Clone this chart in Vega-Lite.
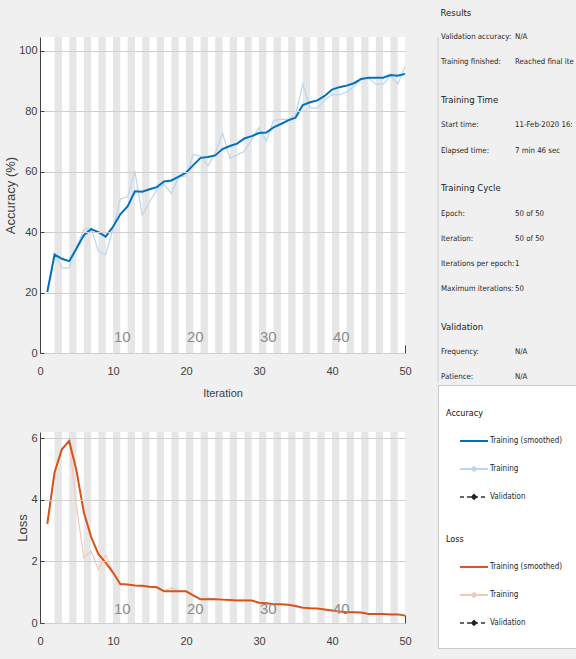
{
  "$schema": "https://vega.github.io/schema/vega-lite/v6.json",
  "background": "#f0f0f0",
  "padding": {"left": 4, "top": 0, "right": 0, "bottom": 0},
  "config": {
    "view": {"stroke": null},
    "font": "DejaVu Sans Condensed, Liberation Sans, sans-serif",
    "axis": {
      "labelFont": "Liberation Sans, Arial, sans-serif",
      "labelFontSize": 11,
      "labelColor": "#404040",
      "domainColor": "#404040",
      "tickColor": "#404040",
      "titleColor": "#404040",
      "titleFontWeight": "normal"
    }
  },
  "datasets": {
    "train": [
      {"iteration": 1, "accuracy": 20.2, "accuracySmoothed": 20.2, "loss": 3.22, "lossSmoothed": 3.22},
      {"iteration": 2, "accuracy": 33, "accuracySmoothed": 32.6, "loss": 4.9, "lossSmoothed": 4.9},
      {"iteration": 3, "accuracy": 28.2, "accuracySmoothed": 31.2, "loss": 5.65, "lossSmoothed": 5.65},
      {"iteration": 4, "accuracy": 28.2, "accuracySmoothed": 30.4, "loss": 5.92, "lossSmoothed": 5.92},
      {"iteration": 5, "accuracy": 35, "accuracySmoothed": 34.6, "loss": 3.8, "lossSmoothed": 4.95},
      {"iteration": 6, "accuracy": 40.9, "accuracySmoothed": 39, "loss": 2.12, "lossSmoothed": 3.6},
      {"iteration": 7, "accuracy": 41.4, "accuracySmoothed": 41, "loss": 2.34, "lossSmoothed": 2.8},
      {"iteration": 8, "accuracy": 33.7, "accuracySmoothed": 40, "loss": 1.74, "lossSmoothed": 2.24},
      {"iteration": 9, "accuracy": 32.6, "accuracySmoothed": 38.5, "loss": 2.21, "lossSmoothed": 1.96},
      {"iteration": 10, "accuracy": 41, "accuracySmoothed": 41.8, "loss": 1.66, "lossSmoothed": 1.64},
      {"iteration": 11, "accuracy": 51, "accuracySmoothed": 45.9, "loss": 1.27, "lossSmoothed": 1.27},
      {"iteration": 12, "accuracy": 51.7, "accuracySmoothed": 48.5, "loss": 1.25, "lossSmoothed": 1.25},
      {"iteration": 13, "accuracy": 60.2, "accuracySmoothed": 53.5, "loss": 1.22, "lossSmoothed": 1.22},
      {"iteration": 14, "accuracy": 45.6, "accuracySmoothed": 53.4, "loss": 1.2, "lossSmoothed": 1.21},
      {"iteration": 15, "accuracy": 50, "accuracySmoothed": 54.2, "loss": 1.17, "lossSmoothed": 1.18},
      {"iteration": 16, "accuracy": 54, "accuracySmoothed": 54.9, "loss": 1.16, "lossSmoothed": 1.16},
      {"iteration": 17, "accuracy": 55.8, "accuracySmoothed": 56.8, "loss": 1.05, "lossSmoothed": 1.03},
      {"iteration": 18, "accuracy": 52.8, "accuracySmoothed": 57.1, "loss": 1.15, "lossSmoothed": 1.03},
      {"iteration": 19, "accuracy": 58.3, "accuracySmoothed": 58.4, "loss": 1.04, "lossSmoothed": 1.03},
      {"iteration": 20, "accuracy": 58.6, "accuracySmoothed": 59.7, "loss": 1.03, "lossSmoothed": 1.03},
      {"iteration": 21, "accuracy": 65.7, "accuracySmoothed": 62.2, "loss": 0.88, "lossSmoothed": 0.9},
      {"iteration": 22, "accuracy": 65.2, "accuracySmoothed": 64.6, "loss": 0.77, "lossSmoothed": 0.77},
      {"iteration": 23, "accuracy": 61.9, "accuracySmoothed": 64.9, "loss": 0.82, "lossSmoothed": 0.77},
      {"iteration": 24, "accuracy": 66.3, "accuracySmoothed": 65.4, "loss": 0.78, "lossSmoothed": 0.77},
      {"iteration": 25, "accuracy": 72.8, "accuracySmoothed": 67.5, "loss": 0.76, "lossSmoothed": 0.76},
      {"iteration": 26, "accuracy": 64.6, "accuracySmoothed": 68.5, "loss": 0.75, "lossSmoothed": 0.75},
      {"iteration": 27, "accuracy": 65.5, "accuracySmoothed": 69.3, "loss": 0.74, "lossSmoothed": 0.73},
      {"iteration": 28, "accuracy": 66.8, "accuracySmoothed": 71, "loss": 0.77, "lossSmoothed": 0.73},
      {"iteration": 29, "accuracy": 70.7, "accuracySmoothed": 71.8, "loss": 0.73, "lossSmoothed": 0.73},
      {"iteration": 30, "accuracy": 74.6, "accuracySmoothed": 72.8, "loss": 0.66, "lossSmoothed": 0.66},
      {"iteration": 31, "accuracy": 70.2, "accuracySmoothed": 73, "loss": 0.65, "lossSmoothed": 0.64},
      {"iteration": 32, "accuracy": 77, "accuracySmoothed": 74.7, "loss": 0.61, "lossSmoothed": 0.61},
      {"iteration": 33, "accuracy": 77.3, "accuracySmoothed": 75.8, "loss": 0.61, "lossSmoothed": 0.61},
      {"iteration": 34, "accuracy": 77.3, "accuracySmoothed": 77, "loss": 0.59, "lossSmoothed": 0.59},
      {"iteration": 35, "accuracy": 78.9, "accuracySmoothed": 77.9, "loss": 0.55, "lossSmoothed": 0.55},
      {"iteration": 36, "accuracy": 89, "accuracySmoothed": 82.1, "loss": 0.47, "lossSmoothed": 0.5},
      {"iteration": 37, "accuracy": 81.1, "accuracySmoothed": 83, "loss": 0.49, "lossSmoothed": 0.48},
      {"iteration": 38, "accuracy": 81.1, "accuracySmoothed": 83.6, "loss": 0.47, "lossSmoothed": 0.47},
      {"iteration": 39, "accuracy": 83.8, "accuracySmoothed": 85.1, "loss": 0.44, "lossSmoothed": 0.44},
      {"iteration": 40, "accuracy": 85.5, "accuracySmoothed": 87.2, "loss": 0.41, "lossSmoothed": 0.41},
      {"iteration": 41, "accuracy": 85.5, "accuracySmoothed": 88, "loss": 0.38, "lossSmoothed": 0.37},
      {"iteration": 42, "accuracy": 86.3, "accuracySmoothed": 88.5, "loss": 0.35, "lossSmoothed": 0.35},
      {"iteration": 43, "accuracy": 88.2, "accuracySmoothed": 89.3, "loss": 0.35, "lossSmoothed": 0.35},
      {"iteration": 44, "accuracy": 90.7, "accuracySmoothed": 90.7, "loss": 0.34, "lossSmoothed": 0.34},
      {"iteration": 45, "accuracy": 91, "accuracySmoothed": 91.1, "loss": 0.29, "lossSmoothed": 0.29},
      {"iteration": 46, "accuracy": 89, "accuracySmoothed": 91.1, "loss": 0.29, "lossSmoothed": 0.29},
      {"iteration": 47, "accuracy": 89, "accuracySmoothed": 91.1, "loss": 0.29, "lossSmoothed": 0.29},
      {"iteration": 48, "accuracy": 91.8, "accuracySmoothed": 92, "loss": 0.28, "lossSmoothed": 0.28},
      {"iteration": 49, "accuracy": 89, "accuracySmoothed": 91.8, "loss": 0.28, "lossSmoothed": 0.28},
      {"iteration": 50, "accuracy": 94.8, "accuracySmoothed": 92.4, "loss": 0.28, "lossSmoothed": 0.24}
    ],
    "stripes": [
      {"from": 2, "to": 3}, {"from": 4, "to": 5}, {"from": 6, "to": 7}, {"from": 8, "to": 9},
      {"from": 10, "to": 11}, {"from": 12, "to": 13}, {"from": 14, "to": 15}, {"from": 16, "to": 17},
      {"from": 18, "to": 19}, {"from": 20, "to": 21}, {"from": 22, "to": 23}, {"from": 24, "to": 25},
      {"from": 26, "to": 27}, {"from": 28, "to": 29}, {"from": 30, "to": 31}, {"from": 32, "to": 33},
      {"from": 34, "to": 35}, {"from": 36, "to": 37}, {"from": 38, "to": 39}, {"from": 40, "to": 41},
      {"from": 42, "to": 43}, {"from": 44, "to": 45}, {"from": 46, "to": 47}, {"from": 48, "to": 49}
    ],
    "epochs": [{"epoch": 10}, {"epoch": 20}, {"epoch": 30}, {"epoch": 40}],
    "info": [
      {"line": 2, "kind": "row", "label": "Validation accuracy:", "value": "N/A"},
      {"line": 4, "kind": "row", "label": "Training finished:", "value": "Reached final iteration"},
      {"line": 7, "kind": "heading", "label": "Training Time", "value": ""},
      {"line": 9, "kind": "row", "label": "Start time:", "value": "11-Feb-2020 16:41:4"},
      {"line": 11, "kind": "row", "label": "Elapsed time:", "value": "7 min 46 sec"},
      {"line": 14, "kind": "heading", "label": "Training Cycle", "value": ""},
      {"line": 16, "kind": "row", "label": "Epoch:", "value": "50 of 50"},
      {"line": 18, "kind": "row", "label": "Iteration:", "value": "50 of 50"},
      {"line": 20, "kind": "row", "label": "Iterations per epoch:", "value": "1"},
      {"line": 22, "kind": "row", "label": "Maximum iterations:", "value": "50"},
      {"line": 25, "kind": "heading", "label": "Validation", "value": ""},
      {"line": 27, "kind": "row", "label": "Frequency:", "value": "N/A"},
      {"line": 29, "kind": "row", "label": "Patience:", "value": "N/A"}
    ],
    "legend": [
      {"line": 0, "metric": "Accuracy", "kind": "heading", "label": "Accuracy"},
      {"line": 2, "metric": "Accuracy", "kind": "smoothed", "label": "Training (smoothed)"},
      {"line": 4, "metric": "Accuracy", "kind": "training", "label": "Training"},
      {"line": 6, "metric": "Accuracy", "kind": "validation", "label": "Validation"},
      {"line": 9, "metric": "Loss", "kind": "heading", "label": "Loss"},
      {"line": 11, "metric": "Loss", "kind": "smoothed", "label": "Training (smoothed)"},
      {"line": 13, "metric": "Loss", "kind": "training", "label": "Training"},
      {"line": 15, "metric": "Loss", "kind": "validation", "label": "Validation"}
    ]
  },
  "spacing": 25,
  "hconcat": [
    {
      "spacing": 34,
      "vconcat": [
        {
          "width": 365,
          "height": 316,
          "view": {"fill": "white"},
          "title": {"text": " ", "fontSize": 10, "offset": 27},
          "layer": [
            {
              "data": {"name": "stripes"},
              "mark": {"type": "rect", "color": "#e6e6e6"},
              "encoding": {
                "x": {"field": "from", "type": "quantitative",
                      "scale": {"domain": [0, 50], "nice": false, "zero": false},
                      "axis": {"title": "Iteration", "values": [0, 5, 10, 15, 20, 25, 30, 35, 40, 45, 50],
                               "grid": false, "tickSize": -8, "labelPadding": 20, "titlePadding": 11, "labelFlush": false,
                               "titleFont": "Liberation Sans, Arial, sans-serif", "titleFontSize": 11}},
                "x2": {"field": "to"},
                "y": {"datum": 0, "type": "quantitative",
                      "scale": {"domain": [0, 104.6], "nice": false, "zero": false},
                      "axis": {"title": "Accuracy (%)", "values": [0, 20, 40, 60, 80, 100], "grid": true,
                               "gridColor": "#cfcfcf", "ticks": true, "tickSize": -4, "labelPadding": 7, "titlePadding": 1, "zindex": 1,
                               "titleFont": "Liberation Sans, Arial, sans-serif", "titleFontSize": 13}},
                "y2": {"datum": 104.6}
              }
            },
            {
              "data": {"name": "train"},
              "mark": {"type": "line", "color": "#b9d6ee", "strokeWidth": 1.2},
              "encoding": {
                "x": {"field": "iteration", "type": "quantitative"},
                "y": {"field": "accuracy", "type": "quantitative"}
              }
            },
            {
              "data": {"name": "train"},
              "mark": {"type": "line", "color": "#0072bd", "strokeWidth": 2},
              "encoding": {
                "x": {"field": "iteration", "type": "quantitative"},
                "y": {"field": "accuracySmoothed", "type": "quantitative"}
              }
            },
            {
              "data": {"name": "epochs"},
              "mark": {"type": "text", "align": "left", "dx": 1, "baseline": "middle", "fontSize": 15, "font": "Liberation Sans, Arial, sans-serif", "color": "#8c8c8c"},
              "encoding": {
                "x": {"field": "epoch", "type": "quantitative"},
                "y": {"datum": 5.4, "type": "quantitative"},
                "text": {"field": "epoch", "type": "quantitative"}
              }
            }
          ]
        },
        {
          "width": 365,
          "height": 191,
          "view": {"fill": "white"},
          "layer": [
            {
              "data": {"name": "stripes"},
              "mark": {"type": "rect", "color": "#e6e6e6"},
              "encoding": {
                "x": {"field": "from", "type": "quantitative",
                      "scale": {"domain": [0, 50], "nice": false, "zero": false},
                      "axis": {"title": "Iteration", "values": [0, 5, 10, 15, 20, 25, 30, 35, 40, 45, 50],
                               "grid": false, "tickSize": -8, "labelPadding": 20, "titlePadding": 11, "labelFlush": false,
                               "titleFont": "Liberation Sans, Arial, sans-serif", "titleFontSize": 11}},
                "x2": {"field": "to"},
                "y": {"datum": 0, "type": "quantitative",
                      "scale": {"domain": [0, 6.21], "nice": false, "zero": false},
                      "axis": {"title": "Loss", "values": [0, 2, 4, 6], "grid": true,
                               "gridColor": "#cfcfcf", "ticks": true, "tickSize": -4, "labelPadding": 7, "titlePadding": 1, "zindex": 1,
                               "titleFont": "Liberation Sans, Arial, sans-serif", "titleFontSize": 13}},
                "y2": {"datum": 6.21}
              }
            },
            {
              "data": {"name": "train"},
              "mark": {"type": "line", "color": "#f4c7b3", "strokeWidth": 1.2},
              "encoding": {
                "x": {"field": "iteration", "type": "quantitative"},
                "y": {"field": "loss", "type": "quantitative"}
              }
            },
            {
              "data": {"name": "train"},
              "mark": {"type": "line", "color": "#d95319", "strokeWidth": 2},
              "encoding": {
                "x": {"field": "iteration", "type": "quantitative"},
                "y": {"field": "lossSmoothed", "type": "quantitative"}
              }
            },
            {
              "data": {"name": "epochs"},
              "mark": {"type": "text", "align": "left", "dx": 1, "baseline": "middle", "fontSize": 15, "font": "Liberation Sans, Arial, sans-serif", "color": "#8c8c8c"},
              "encoding": {
                "x": {"field": "epoch", "type": "quantitative"},
                "y": {"datum": 0.44, "type": "quantitative"},
                "text": {"field": "epoch", "type": "quantitative"}
              }
            }
          ]
        }
      ]
    },
    {
      "spacing": 0,
      "vconcat": [
        {
          "width": 140,
          "height": 346,
          "title": {"text": "Results", "anchor": "start", "dx": 3, "baseline": "middle", "offset": 11,
                    "fontSize": 9.5, "fontWeight": "normal", "color": "#1a1a1a",
                    "font": "DejaVu Sans Condensed, Liberation Sans, sans-serif"},
          "data": {"name": "info"},
          "layer": [
            {
              "data": {"values": [{"edge": "left"}]},
              "mark": {"type": "rule", "color": "#d0d0d0"},
              "encoding": {
                "x": {"datum": 0, "type": "quantitative", "scale": {"domain": [0, 140], "nice": false, "zero": false}, "axis": null}
              }
            },
            {
              "transform": [{"filter": "datum.kind == 'heading'"}],
              "mark": {"type": "text", "align": "left", "baseline": "middle", "fontSize": 9.5, "color": "#1a1a1a"},
              "encoding": {
                "x": {"datum": 3, "type": "quantitative"},
                "y": {"field": "line", "type": "quantitative",
                      "scale": {"domain": [1.984, 29.444], "reverse": true, "nice": false, "zero": false}, "axis": null},
                "text": {"field": "label"}
              }
            },
            {
              "transform": [{"filter": "datum.kind == 'row'"}],
              "mark": {"type": "text", "align": "left", "baseline": "middle", "fontSize": 7.8, "color": "#262626"},
              "encoding": {
                "x": {"datum": 3, "type": "quantitative"},
                "y": {"field": "line", "type": "quantitative"},
                "text": {"field": "label"}
              }
            },
            {
              "transform": [{"filter": "datum.kind == 'row'"}],
              "mark": {"type": "text", "align": "left", "baseline": "middle", "fontSize": 7.8, "color": "#262626", "limit": 62, "ellipsis": " "},
              "encoding": {
                "x": {"datum": 77, "type": "quantitative"},
                "y": {"field": "line", "type": "quantitative"},
                "text": {"field": "value"}
              }
            }
          ]
        },
        {
          "width": 140,
          "height": 263,
          "view": {"fill": "white", "stroke": "#c8c8c8"},
          "data": {"name": "legend"},
          "resolve": {"scale": {"color": "independent"}},
          "layer": [
            {
              "transform": [{"filter": "datum.kind == 'heading'"}],
              "mark": {"type": "text", "align": "left", "baseline": "middle", "fontSize": 9, "color": "#111111"},
              "encoding": {
                "x": {"datum": 8, "type": "quantitative", "scale": {"domain": [0, 140], "nice": false, "zero": false}, "axis": null},
                "y": {"field": "line", "type": "quantitative",
                      "scale": {"domain": [-2, 16.79], "reverse": true, "nice": false, "zero": false}, "axis": null},
                "text": {"field": "label"}
              }
            },
            {
              "transform": [{"filter": "datum.kind != 'heading'"}],
              "mark": {"type": "text", "align": "left", "baseline": "middle", "fontSize": 8, "color": "#262626"},
              "encoding": {
                "x": {"datum": 52, "type": "quantitative"},
                "y": {"field": "line", "type": "quantitative"},
                "text": {"field": "label"}
              }
            },
            {
              "transform": [{"filter": "datum.kind == 'smoothed'"}],
              "mark": {"type": "rule", "strokeWidth": 2},
              "encoding": {
                "x": {"datum": 22, "type": "quantitative"},
                "x2": {"datum": 50},
                "y": {"field": "line", "type": "quantitative"},
                "color": {"field": "metric", "type": "nominal",
                          "scale": {"domain": ["Accuracy", "Loss"], "range": ["#0072bd", "#d95319"]}, "legend": null}
              }
            },
            {
              "transform": [{"filter": "datum.kind == 'training'"}],
              "mark": {"type": "rule", "strokeWidth": 2},
              "encoding": {
                "x": {"datum": 22, "type": "quantitative"},
                "x2": {"datum": 50},
                "y": {"field": "line", "type": "quantitative"},
                "color": {"field": "metric", "type": "nominal",
                          "scale": {"domain": ["Accuracy", "Loss"], "range": ["#b9d6ee", "#f4c7b3"]}, "legend": null}
              }
            },
            {
              "transform": [{"filter": "datum.kind == 'training'"}],
              "mark": {"type": "point", "shape": "diamond", "filled": true, "size": 45, "opacity": 1},
              "encoding": {
                "x": {"datum": 36, "type": "quantitative"},
                "y": {"field": "line", "type": "quantitative"},
                "color": {"field": "metric", "type": "nominal",
                          "scale": {"domain": ["Accuracy", "Loss"], "range": ["#b9d6ee", "#f4c7b3"]}, "legend": null}
              }
            },
            {
              "transform": [{"filter": "datum.kind == 'validation'"}],
              "mark": {"type": "rule", "strokeWidth": 1.5, "strokeDash": [4, 3], "color": "#333333"},
              "encoding": {
                "x": {"datum": 22, "type": "quantitative"},
                "x2": {"datum": 50},
                "y": {"field": "line", "type": "quantitative"}
              }
            },
            {
              "transform": [{"filter": "datum.kind == 'validation'"}],
              "mark": {"type": "point", "shape": "diamond", "filled": true, "size": 45, "opacity": 1, "color": "#222222"},
              "encoding": {
                "x": {"datum": 36, "type": "quantitative"},
                "y": {"field": "line", "type": "quantitative"}
              }
            }
          ]
        }
      ]
    }
  ]
}
